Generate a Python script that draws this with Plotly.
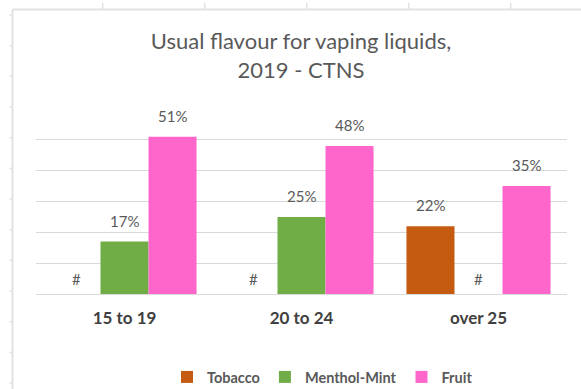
import plotly.graph_objects as go

# ---------------- data ----------------
categories = ["15 to 19", "20 to 24", "over 25"]
series_names = ["Tobacco", "Menthol-Mint", "Fruit"]
tobacco = [None, None, 22]
menthol_mint = [17, 25, None]
fruit = [51, 48, 35]
y_ticks = [0, 10, 20, 30, 40, 50, 60]

colors = ["#C55A11", "#70AD47", "#FF66CC"]
series_values = [tobacco, menthol_mint, fruit]

# ---------------- layout constants ----------------
FW, FH = 581, 389
ML, MR, MT, MB = 36, 14, 109, 95
PW, PH = FW - ML - MR, FH - MT - MB
BARGAP = 0.186
FONT = "Lato"


def px_x(px):
    return (px - ML) / PW


def px_y(py):
    return (FH - MB - py) / PH


fig = go.Figure()
for name, vals, col in zip(series_names, series_values, colors):
    fig.add_trace(go.Bar(
        name=name, x=categories, y=[v if v is not None else 0 for v in vals],
        marker=dict(color=col, line=dict(width=0)),
        hoverinfo="skip",
    ))

annotations = []
bar_w = (1 - BARGAP) / len(series_names)
for si, vals in enumerate(series_values):
    for ci, v in enumerate(vals):
        txt = f"{v}%" if v is not None else "#"
        annotations.append(dict(
            x=ci + (si - 1) * bar_w, y=v if v is not None else 0,
            xref="x", yref="y", text=txt, showarrow=False,
            yanchor="middle", yshift=21 if v is not None else 15,
            font=dict(family=FONT, size=15, color="#595959"),
        ))

# decorative spreadsheet edges
shapes = []
edge_col = "#E2E2E2"
shapes.append(dict(type="line", xref="paper", yref="paper",
                   x0=px_x(12.5), x1=px_x(12.5), y0=px_y(9.5), y1=px_y(FH),
                   line=dict(color=edge_col, width=2)))
shapes.append(dict(type="line", xref="paper", yref="paper",
                   x0=px_x(12.5), x1=px_x(FW), y0=px_y(9.5), y1=px_y(9.5),
                   line=dict(color=edge_col, width=2)))
for k in range(13):
    yy = 15 + 30.67 * k
    shapes.append(dict(type="line", xref="paper", yref="paper",
                       x0=px_x(9.5), x1=px_x(12.5), y0=px_y(yy), y1=px_y(yy),
                       line=dict(color=edge_col, width=1.5)))
for k in range(5):
    xx = 102.7 + 102 * k
    shapes.append(dict(type="line", xref="paper", yref="paper",
                       x0=px_x(xx), x1=px_x(xx), y0=px_y(3), y1=px_y(9.5),
                       line=dict(color=edge_col, width=1.5)))

fig.update_layout(
    width=FW, height=FH,
    margin=dict(l=ML, r=MR, t=MT, b=MB, pad=0, autoexpand=False),
    paper_bgcolor="white", plot_bgcolor="white",
    barmode="group", bargap=BARGAP, bargroupgap=0,
    title=dict(
        text="Usual flavour for vaping liquids,<br>2019 - CTNS",
        x=px_x(301), xanchor="center", xref="paper",
        y=1 - 49 / FH, yanchor="middle",
        font=dict(family=FONT, size=22, color="#595959"),
    ),
    xaxis=dict(
        type="category", showgrid=False, zeroline=False,
        showline=False, ticks="outside", ticklen=9, tickcolor="rgba(0,0,0,0)",
        tickfont=dict(family=FONT, size=17, color="#404040", weight="bold"),
    ),
    yaxis=dict(
        range=[0, 60], tickvals=y_ticks, showticklabels=False,
        showgrid=True, gridcolor="#D9D9D9", gridwidth=1,
        zeroline=True, zerolinecolor="#D9D9D9", zerolinewidth=1,
        showline=False, ticks="",
    ),
    legend=dict(
        orientation="h", xanchor="left", x=px_x(167), yanchor="middle",
        y=px_y(377), itemwidth=30, traceorder="normal",
        font=dict(family=FONT, size=14.5, color="#595959", weight="bold"),
        bgcolor="rgba(0,0,0,0)",
    ),
    annotations=annotations,
    shapes=shapes,
    showlegend=True,
)

fig.write_html("out.html")
